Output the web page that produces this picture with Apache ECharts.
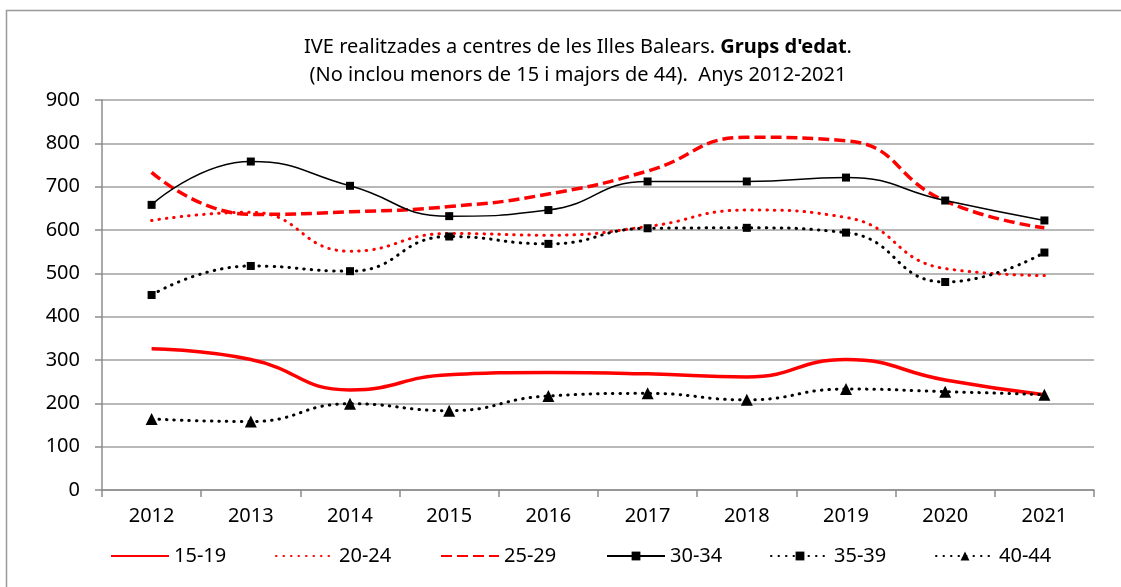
<!DOCTYPE html>
<html>
<head>
<meta charset="utf-8">
<script src="https://cdn.jsdelivr.net/npm/echarts@6/dist/echarts.min.js"></script>
<style>
  html, body { margin: 0; padding: 0; background: #fff; }
  #chart { width: 1121px; height: 587px; }
</style>
</head>
<body>
<div id="chart"></div>
<script>
// anys
const years = ['2012', '2013', '2014', '2015', '2016', '2017', '2018', '2019', '2020', '2021']
// IVE per grup d'edat (llegit del gràfic)
const g1519 = [326, 301, 231, 266, 271, 268, 261, 301, 254, 220]
const g2024 = [622, 641, 551, 592, 588, 608, 646, 629, 511, 495]
const g2529 = [733, 636, 642, 654, 683, 736, 814, 806, 667, 605]
const g3034 = [658, 758, 702, 632, 646, 712, 712, 721, 668, 622]
const g3539 = [450, 517, 505, 585, 568, 604, 605, 594, 480, 548]
const g4044 = [164, 158, 199, 183, 217, 223, 208, 233, 227, 220]
const groupNames = ['15-19', '20-24', '25-29', '30-34', '35-39', '40-44']
const yTicks = { min: 0, max: 900, step: 100 }

const FONT = 'Noto Sans'
const FS = 20
const chart = echarts.init(document.getElementById('chart'))

const DOTS = [0.5, 7]

function mkSeries(name, data, color, width, type, symbol, symbolSize) {
  return {
    name: name,
    type: 'line',
    data: data,
    smooth: 0.5,
    symbol: symbol || 'none',
    symbolSize: symbolSize || 0,
    showSymbol: !!symbol,
    itemStyle: { color: color },
    lineStyle: { color: color, width: width, type: type, cap: Array.isArray(type) && type[0] < 1 ? 'round' : 'butt' },
    emphasis: { disabled: true },
    animation: false
  }
}

// una llegenda per element, per col·locar-les com a l'original
const legendLeft = [110, 275, 440, 606, 770, 935]
const noMarker = [true, true, true, false, false, false]
const legends = groupNames.map((n, i) => ({
  data: [n],
  left: legendLeft[i],
  top: 546,
  padding: 0,
  itemWidth: 58,
  itemHeight: 11,
  itemStyle: noMarker[i] ? { color: 'rgba(0,0,0,0)', borderWidth: 0 } : {},
  textStyle: { fontFamily: FONT, fontSize: FS, color: '#000' },
  selectedMode: false
}))

const option = {
  backgroundColor: '#fff',
  title: {
    text: '{a|IVE realitzades a centres de les Illes Balears. }{b|Grups d\'edat}{a|.}\n{a|(No inclou menors de 15 i majors de 44).  Anys 2012-2021}',
    left: 573,
    top: 28,
    textAlign: 'center',
    textStyle: {
      fontWeight: 'normal',
      rich: {
        a: { fontFamily: FONT, fontSize: FS, color: '#000', fontWeight: 'normal', lineHeight: 28 },
        b: { fontFamily: FONT, fontSize: FS, color: '#000', fontWeight: 'bold', lineHeight: 28 }
      }
    }
  },
  legend: legends,
  grid: { left: 102, right: 27, top: 100, bottom: 97 },
  xAxis: {
    type: 'category',
    data: years,
    boundaryGap: true,
    axisLine: { lineStyle: { color: '#8c8c8c', width: 1.5 } },
    axisTick: { show: true, length: 7, lineStyle: { color: '#8c8c8c', width: 1.5 } },
    axisLabel: { margin: 16, fontFamily: FONT, fontSize: FS, color: '#000' }
  },
  yAxis: {
    type: 'value',
    min: yTicks.min,
    max: yTicks.max,
    interval: yTicks.step,
    axisLine: { show: true, lineStyle: { color: '#8c8c8c', width: 1.5 } },
    axisTick: { show: true, length: 7, lineStyle: { color: '#8c8c8c', width: 1.5 } },
    axisLabel: { margin: 22, fontFamily: FONT, fontSize: FS, color: '#000' },
    splitLine: { lineStyle: { color: '#a0a0a0', width: 1.5 } }
  },
  graphic: [{
    type: 'rect',
    shape: { x: 6.5, y: 10.5, width: 1130, height: 600 },
    style: { fill: 'none', stroke: '#999', lineWidth: 1.5 },
    silent: true
  }],
  series: [
    mkSeries('15-19', g1519, '#ff0000', 3.5, 'solid'),
    mkSeries('20-24', g2024, '#ff0000', 3, DOTS),
    mkSeries('25-29', g2529, '#ff0000', 3.5, [11, 5]),
    mkSeries('30-34', g3034, '#000000', 1.5, 'solid', 'rect', 8),
    mkSeries('35-39', g3539, '#000000', 3, DOTS, 'rect', 8),
    mkSeries('40-44', g4044, '#000000', 3, DOTS, 'triangle', 12)
  ]
}

chart.setOption(option)
</script>
</body>
</html>
